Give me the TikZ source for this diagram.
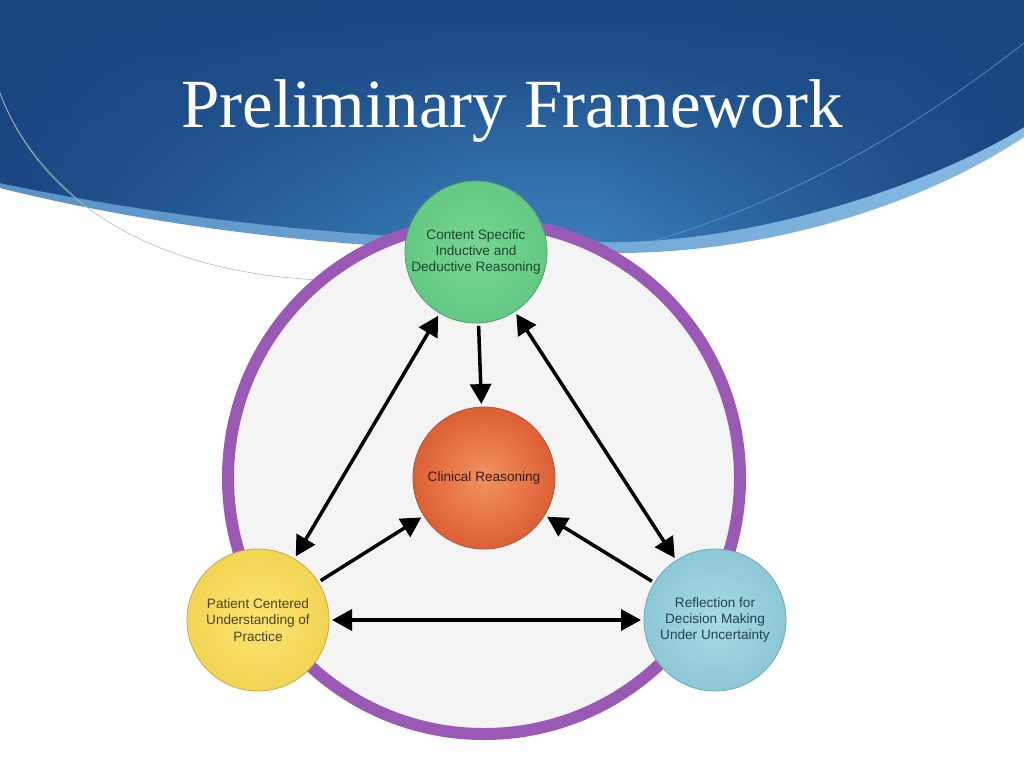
\documentclass[tikz,border=0pt]{standalone}
\usepackage{fontspec}
\setmainfont{Liberation Serif}
\setsansfont{Liberation Sans}
\usetikzlibrary{arrows.meta, fadings}

\definecolor{headtop}{HTML}{1A4682}
\definecolor{headlow}{HTML}{3A7FBA}
\definecolor{bandleft}{HTML}{5A92C6}
\definecolor{bandright}{HTML}{86BAE3}
\definecolor{ringpurple}{HTML}{9B59B6}
\definecolor{innergray}{HTML}{F4F4F4}

\begin{document}
\begin{tikzpicture}[x=1pt, y=-1pt,
  stage/.style={circle, minimum size=142pt, inner sep=0pt, outer sep=3pt, align=center,
    line width=0.8pt, font=\sffamily\fontsize{13.6}{16.2}\selectfont},
  link/.style={line width=3.5pt, -{Triangle[length=20pt, width=21pt]}},
  twoway/.style={line width=3.5pt, {Triangle[length=20pt, width=21pt]}-{Triangle[length=20pt, width=21pt]}}]
\useasboundingbox (0,0) rectangle (1024,768);
\fill[white] (0,0) rectangle (1024,768);

\shade[left color=bandleft, right color=bandright] (0,0) -- (1024,0) -- (1024,137)
  .. controls (930,200) and (780,252) .. (620,253)
  .. controls (420,255) and (200,238) .. (0,188) -- cycle;
\begin{scope}
\clip (0,0) -- (1024,0) -- (1024,127)
  .. controls (930,185) and (760,240) .. (620,242)
  .. controls (420,245) and (200,225) .. (0,183) -- cycle;
\shade[top color=headtop, bottom color=headlow] (0,0) rectangle (1024,250);
\fill[headtop, path fading=east] (0,0) rectangle (480,250);
\fill[headtop, path fading=west] (600,0) rectangle (1024,250);
\fill[headtop, path fading=south, opacity=0.5] (0,0) rectangle (1024,120);
\draw[headlow!80!white, line width=0.6pt] (1024,43) .. controls (900,140) and (780,205) .. (640,245);
\draw[headlow!70!white, line width=0.5pt] (0,93) .. controls (20,147) and (60,185) .. (85,205);
\end{scope}
\draw[gray!55, line width=0.6pt] (0,93) .. controls (40,200) and (150,272) .. (320,280);

\node[text=white, font=\fontsize{69}{80}\selectfont, anchor=base] (title) at (512,127) {Preliminary Framework};

\draw[ringpurple, line width=12pt, fill=innergray] (484,478) circle[radius=256];

\node[stage, inner color={rgb,255:red,120;green,213;blue,150}, outer color={rgb,255:red,99;green,201;blue,131}, draw={rgb,255:red,84;green,160;blue,110}, text={rgb,255:red,28;green,72;blue,40}] (content) at (476,252) {Content Specific\\Inductive and\\Deductive Reasoning};
\node[stage, inner color={rgb,255:red,242;green,146;blue,95}, outer color={rgb,255:red,221;green,95;blue,54}, draw={rgb,255:red,176;green,86;blue,58}, text={rgb,255:red,61;green,26;blue,15}] (clinical) at (484,478) {Clinical Reasoning};
\node[stage, inner color={rgb,255:red,250;green,228;blue,114}, outer color={rgb,255:red,243;green,213;blue,83}, draw={rgb,255:red,196;green,170;blue,80}, text={rgb,255:red,77;green,66;blue,34}] (patient) at (258,620) {Patient Centered\\Understanding of\\Practice};
\node[stage, inner color={rgb,255:red,169;green,219;blue,228}, outer color={rgb,255:red,140;green,200;blue,213}, draw={rgb,255:red,111;green,169;blue,181}, text={rgb,255:red,30;green,68;blue,80}] (reflection) at (715,620) {Reflection for\\Decision Making\\Under Uncertainty};

\draw[link] (content) -- (clinical);
\draw[link] (patient) -- (clinical);
\draw[link] (reflection) -- (clinical);
\draw[twoway] (content) -- (patient);
\draw[twoway] (content) -- (reflection);
\draw[twoway] (patient) -- (reflection);
\end{tikzpicture}
\end{document}
